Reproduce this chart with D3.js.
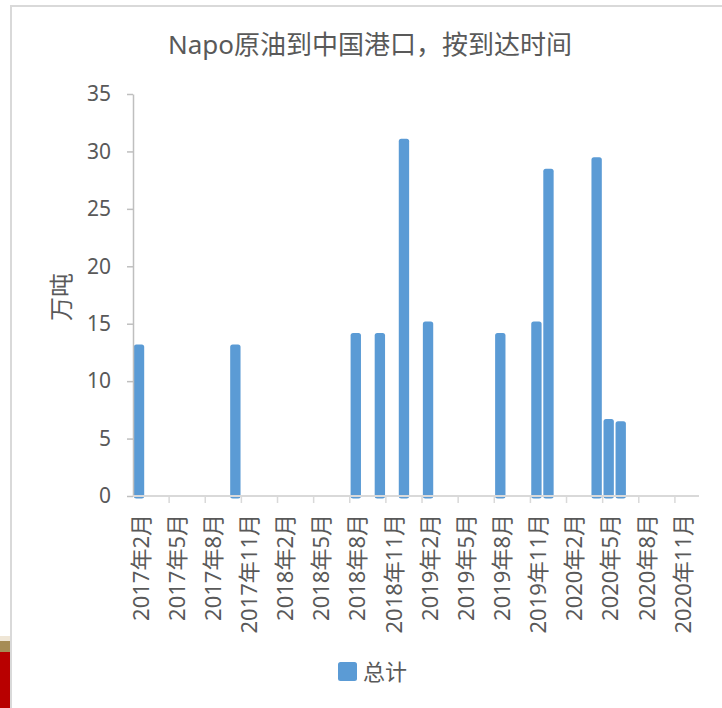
<!DOCTYPE html>
<html>
<head>
<meta charset="utf-8">
<script src="https://cdn.jsdelivr.net/npm/d3@7"></script>
<style>
  body { margin: 0; background: #fff; }
  svg { display: block; font-family: "Noto Sans", "Noto Sans CJK SC", sans-serif; }
</style>
</head>
<body>
<script>
const months = [
  "2017年2月", "2017年3月", "2017年4月", "2017年5月", "2017年6月", "2017年7月",
  "2017年8月", "2017年9月", "2017年10月", "2017年11月", "2017年12月",
  "2018年1月", "2018年2月", "2018年3月", "2018年4月", "2018年5月", "2018年6月",
  "2018年7月", "2018年8月", "2018年9月", "2018年10月", "2018年11月", "2018年12月",
  "2019年1月", "2019年2月", "2019年3月", "2019年4月", "2019年5月", "2019年6月",
  "2019年7月", "2019年8月", "2019年9月", "2019年10月", "2019年11月", "2019年12月",
  "2020年1月", "2020年2月", "2020年3月", "2020年4月", "2020年5月", "2020年6月",
  "2020年7月", "2020年8月", "2020年9月", "2020年10月", "2020年11月", "2020年12月"
];

const totals = [
  13.2, 0, 0, 0, 0, 0, 0, 0, 13.2, 0, 0,
  0, 0, 0, 0, 0, 0, 0, 14.2, 0, 14.2, 0, 31.1,
  0, 15.2, 0, 0, 0, 0, 0, 14.2, 0, 0, 15.2, 28.5,
  0, 0, 0, 29.5, 6.7, 6.5, 0, 0, 0, 0, 0, 0
];

const tickLabels = [
  "2017年2月", "2017年5月", "2017年8月", "2017年11月",
  "2018年2月", "2018年5月", "2018年8月", "2018年11月",
  "2019年2月", "2019年5月", "2019年8月", "2019年11月",
  "2020年2月", "2020年5月", "2020年8月", "2020年11月"
];

const yTicks = [0, 5, 10, 15, 20, 25, 30, 35];

const title = "Napo原油到中国港口，按到达时间";
const yTitle = "万吨";
const seriesName = "总计";

const width = 722, height = 708;
const plotLeft = 133, plotRight = 699, plotTop = 94, plotBottom = 496;
const textColor = "#595959";
const barColor = "#5B9BD5";

const svg = d3.select("body").append("svg")
  .attr("width", width)
  .attr("height", height);

// frame and the strip of the page behind it
svg.append("rect").attr("x", 0).attr("y", 636).attr("width", 10).attr("height", 6).attr("fill", "#efe6d6");
svg.append("rect").attr("x", 0).attr("y", 641).attr("width", 10).attr("height", 11).attr("fill", "#a68c55");
svg.append("rect").attr("x", 0).attr("y", 652).attr("width", 10).attr("height", 56).attr("fill", "#b80000");
svg.append("path")
  .attr("d", "M11,708V6H722")
  .attr("fill", "none")
  .attr("stroke", "#d9d9d9")
  .attr("stroke-width", 2);

const x = d3.scaleBand()
  .domain(months)
  .range([plotLeft, plotRight])
  .paddingInner(0.14)
  .paddingOuter(0.07);

const y = d3.scaleLinear()
  .domain([0, 35])
  .range([plotBottom, plotTop]);

const data = months.map((m, i) => ({ month: m, value: totals[i] }));

// bars (rounded, drawn a bit under the axis line)
svg.append("g")
  .selectAll("rect")
  .data(data.filter(d => d.value > 0))
  .join("rect")
  .attr("x", d => x(d.month))
  .attr("y", d => y(d.value))
  .attr("width", x.bandwidth())
  .attr("height", d => y(0) - y(d.value) + 2.5)
  .attr("rx", 2.5)
  .attr("fill", barColor);

// y axis
const yAxis = svg.append("g")
  .attr("transform", `translate(${plotLeft},0)`)
  .call(d3.axisLeft(y).tickValues(yTicks).tickSize(6).tickPadding(16).tickSizeOuter(0));
yAxis.select(".domain").attr("stroke", "#bfbfbf").attr("stroke-width", 1.5);
yAxis.selectAll(".tick line").attr("stroke", "#bfbfbf").attr("stroke-width", 1.5);
yAxis.selectAll(".tick text")
  .attr("fill", textColor)
  .attr("font-size", 21)
  .attr("font-family", "Noto Sans, sans-serif");

// x axis line and ticks at the start of every third month
svg.append("line")
  .attr("x1", plotLeft).attr("x2", plotRight)
  .attr("y1", plotBottom).attr("y2", plotBottom)
  .attr("stroke", "#d9d9d9")
  .attr("stroke-width", 2);

const bandStart = m => x(m) - x.step() * x.paddingInner() / 2;

svg.append("g")
  .selectAll("line")
  .data(tickLabels.slice(1))
  .join("line")
  .attr("x1", d => bandStart(d)).attr("x2", d => bandStart(d))
  .attr("y1", plotBottom).attr("y2", plotBottom + 7)
  .attr("stroke", "#d9d9d9")
  .attr("stroke-width", 1.5);

svg.append("g")
  .selectAll("text")
  .data(tickLabels)
  .join("text")
  .attr("transform", d => `translate(${x(d) + x.bandwidth() / 2 + 2},${plotBottom + 18}) rotate(-90)`)
  .attr("text-anchor", "end")
  .attr("dy", "0.35em")
  .attr("fill", textColor)
  .attr("font-size", 22)
  .text(d => d);

// titles
svg.append("text")
  .attr("x", 370)
  .attr("y", 54)
  .attr("text-anchor", "middle")
  .attr("fill", textColor)
  .attr("font-size", 26)
  .text(title);

svg.append("text")
  .attr("transform", "translate(62,297) rotate(-90)")
  .attr("text-anchor", "middle")
  .attr("dy", "0.35em")
  .attr("fill", textColor)
  .attr("font-size", 24)
  .text(yTitle);

// legend
const legend = svg.append("g").attr("transform", "translate(338,662)");
legend.append("rect")
  .attr("width", 19)
  .attr("height", 19)
  .attr("rx", 2.5)
  .attr("fill", barColor);
legend.append("text")
  .attr("x", 25)
  .attr("y", 10)
  .attr("dy", "0.35em")
  .attr("fill", textColor)
  .attr("font-size", 22)
  .text(seriesName);
</script>
</body>
</html>
